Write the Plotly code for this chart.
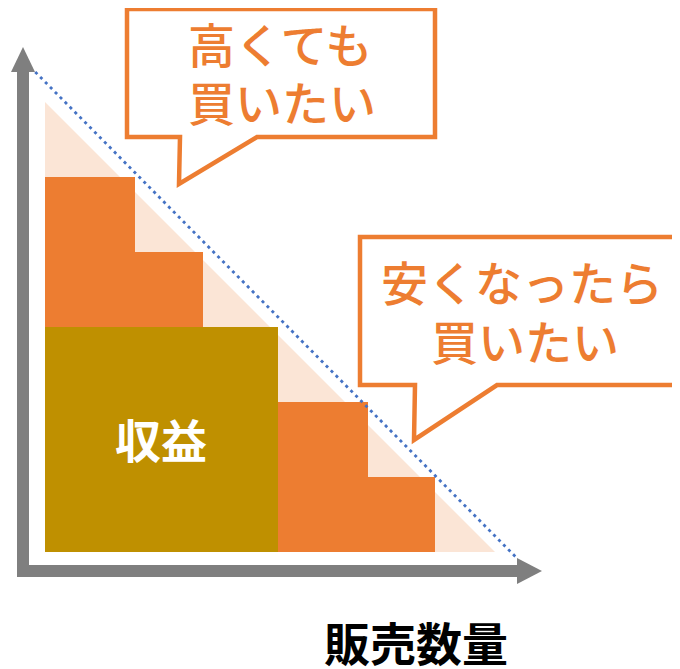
import plotly.graph_objects as go

# ---------------- data (abstract units: quantity / price) ----------------
step_breaks = [0, 1.2, 2.1, 3.1, 4.3, 5.2]      # quantity where each buyer group ends
step_prices = [5, 4, 3, 2, 1]                    # willingness to pay per group
revenue_qty = 3.1                                # quantity sold at chosen price
revenue_price = 3                                # chosen price
demand_tri_x = [0, 0, 6]                         # demand triangle (pale)
demand_tri_y = [6, 0, 0]
demand_line_x = [-0.13, 6.29]                    # dotted demand line
demand_line_y = [6.40, -0.08]

label_high = ["高くても", "買いたい"]
label_low = ["安くなったら", "買いたい"]
label_rev = "収益"
label_x = "販売数量"

ORANGE = "#ED7D31"
PALE = "#FBE5D6"
GOLD = "#BF9000"
BLUE = "#4472C4"
GRAY = "#7F7F7F"

W, H = 680, 669
PAGE_OFF = 8                       # page body margin
X0_PX, Y0_PX, UNIT = 45, 552, 75   # origin screen pixel and unit size


def px2x(px):
    return (px - X0_PX) / UNIT


def py2y(py):
    return (Y0_PX - py) / UNIT


fig = go.Figure()

# orange steps
centers = [(a + b) / 2 for a, b in zip(step_breaks[:-1], step_breaks[1:])]
widths = [b - a for a, b in zip(step_breaks[:-1], step_breaks[1:])]
fig.add_trace(go.Bar(x=centers, y=step_prices, width=widths, base=0,
                     marker=dict(color=ORANGE, line=dict(width=0)),
                     showlegend=False, hoverinfo="skip"))

# gold revenue rectangle
fig.add_trace(go.Bar(x=[revenue_qty / 2], y=[revenue_price], width=[revenue_qty],
                     base=0, marker=dict(color=GOLD, line=dict(width=0)),
                     showlegend=False, hoverinfo="skip"))

# dotted demand line
fig.add_trace(go.Scatter(x=demand_line_x, y=demand_line_y, mode="lines",
                         line=dict(color=BLUE, width=2.8, dash="3px,4px"),
                         hoverinfo="skip", showlegend=False))

shapes = []
# pale triangle (below traces)
tri = "M " + " L ".join(f"{a},{b}" for a, b in zip(demand_tri_x, demand_tri_y)) + " Z"
shapes.append(dict(type="path", path=tri, fillcolor=PALE, line=dict(width=0), layer="below"))

# vertical axis shaft + head
shapes.append(dict(type="rect", x0=px2x(17), x1=px2x(29), y0=py2y(577), y1=py2y(71),
                   fillcolor=GRAY, line=dict(width=0), layer="below"))
shapes.append(dict(type="path",
                   path=f"M {px2x(11)},{py2y(72)} L {px2x(23)},{py2y(47)} L {px2x(35)},{py2y(72)} Z",
                   fillcolor=GRAY, line=dict(width=0), layer="below"))
# horizontal axis shaft + head
shapes.append(dict(type="rect", x0=px2x(17), x1=px2x(518), y0=py2y(577), y1=py2y(565),
                   fillcolor=GRAY, line=dict(width=0), layer="below"))
shapes.append(dict(type="path",
                   path=f"M {px2x(517)},{py2y(558)} L {px2x(542)},{py2y(571)} L {px2x(517)},{py2y(584)} Z",
                   fillcolor=GRAY, line=dict(width=0), layer="below"))


def callout(pts):
    d = "M " + " L ".join(f"{px2x(a)},{py2y(b)}" for a, b in pts) + " Z"
    return dict(type="path", path=d, fillcolor="white",
                line=dict(color=ORANGE, width=4.5), layer="above")


shapes.append(callout([(127, 9), (435, 9), (435, 137), (257, 137), (179, 184),
                       (180, 137), (127, 137)]))
shapes.append(callout([(360, 237), (700, 237), (700, 385), (497, 385), (414, 440),
                       (415, 385), (360, 385)]))

fig.update_layout(shapes=shapes)

FONT = "Noto Sans CJK JP"


def label(px, py, text, color, size=47, weight=500):
    fig.add_annotation(x=px2x(px), y=py2y(py), text=text, showarrow=False,
                       font=dict(family=FONT, size=size, color=color, weight=weight),
                       xanchor="center", yanchor="middle")


label(280, 42, label_high[0], ORANGE)
label(282, 100, label_high[1], ORANGE)
label(522, 280, label_low[0], ORANGE)
label(525, 339, label_low[1], ORANGE)
label(161, 438, label_rev, "white", size=46, weight="bold")
label(416, 641, label_x, "black", size=46, weight="bold")

fig.update_layout(
    width=W, height=H,
    margin=dict(l=0, r=0, t=0, b=0),
    paper_bgcolor="white", plot_bgcolor="white",
    barmode="overlay", bargap=0,
    xaxis=dict(range=[px2x(PAGE_OFF), px2x(PAGE_OFF + W)], visible=False, fixedrange=True),
    yaxis=dict(range=[py2y(PAGE_OFF + H), py2y(PAGE_OFF)], visible=False, fixedrange=True),
    showlegend=False,
)

fig.write_html("out.html")
